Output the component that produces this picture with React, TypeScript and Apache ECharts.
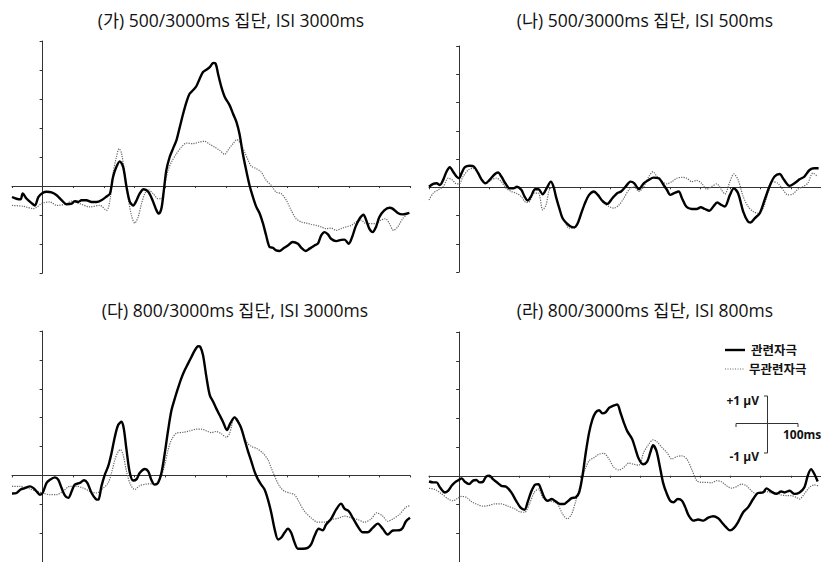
import React, { useEffect, useRef } from "react";
import * as echarts from "echarts";

// Time (ms) and amplitude (µV) pairs
const relA: number[][] = [[-100,-0.38],[-85,-0.44],[-72,-0.46],[-65,-0.26],[-52,-0.44],[-36,-0.59],[-25,-0.67],[-14,-0.38],[0,-0.24],[13,-0.2],[29,-0.22],[46,-0.32],[62,-0.49],[78,-0.63],[95,-0.61],[105,-0.52],[116,-0.55],[127,-0.49],[143,-0.49],[160,-0.55],[176,-0.55],[192,-0.49],[209,-0.36],[220,-0.26],[230,0.31],[241,0.66],[252,0.85],[263,0.66],[274,-0.03],[285,-0.55],[296,-0.67],[307,-0.49],[317,-0.26],[330,-0.11],[345,-0.2],[359,-0.49],[372,-0.84],[380,-0.95],[388,-0.78],[396,-0.15],[404,0.54],[415,1.0],[426,1.29],[437,1.57],[448,2.03],[459,2.49],[470,2.9],[480,3.18],[491,3.3],[502,3.44],[513,3.7],[524,3.93],[535,4.01],[546,4.1],[557,4.24],[565,4.22],[573,3.87],[584,3.41],[595,3.07],[611,2.78],[622,2.49],[633,2.21],[643,1.8],[654,1.11],[665,0.54],[676,0.02],[687,-0.38],[698,-0.72],[709,-0.95],[720,-1.3],[730,-1.7],[741,-2.1],[752,-2.13],[763,-2.22],[774,-2.24],[785,-2.16],[801,-2.05],[817,-1.93],[834,-1.99],[845,-2.13],[859,-2.24],[872,-2.16],[888,-2.05],[899,-1.99],[910,-1.7],[921,-1.59],[932,-1.67],[942,-1.82],[959,-1.9],[975,-1.86],[986,-1.85],[1000,-1.99],[1011,-1.76],[1022,-1.41],[1035,-1.13],[1048,-0.99],[1057,-1.18],[1067,-1.47],[1078,-1.59],[1089,-1.41],[1100,-1.07],[1116,-0.84],[1133,-0.75],[1143,-0.78],[1160,-0.93],[1176,-0.98],[1198,-0.93]];
const irrA: number[][] = [[-100,-0.67],[-63,-0.7],[-30,-0.78],[0,-0.59],[24,-0.55],[46,-0.67],[78,-0.61],[95,-0.52],[122,-0.61],[154,-0.72],[187,-0.67],[209,-0.84],[220,-0.49],[230,0.43],[241,1.0],[250,1.29],[258,1.11],[268,0.43],[279,-0.38],[290,-1.01],[301,-1.28],[312,-1.07],[323,-0.61],[334,-0.26],[345,-0.13],[361,-0.26],[377,-0.44],[388,-0.44],[399,0.08],[410,0.54],[421,0.83],[437,1.11],[453,1.34],[470,1.48],[491,1.46],[513,1.52],[529,1.54],[546,1.44],[562,1.34],[578,1.23],[595,1.09],[605,1.23],[622,1.46],[635,1.6],[649,1.4],[660,1.17],[671,0.89],[682,0.68],[698,0.6],[714,0.48],[730,0.2],[747,0.02],[763,-0.21],[779,-0.26],[796,-0.49],[812,-0.84],[828,-1.13],[845,-1.24],[861,-1.28],[877,-1.32],[894,-1.36],[910,-1.41],[926,-1.47],[942,-1.45],[959,-1.53],[975,-1.47],[991,-1.41],[1008,-1.36],[1024,-1.24],[1040,-1.18],[1057,-1.3],[1073,-1.3],[1089,-1.3],[1105,-1.18],[1120,-1.13],[1133,-1.3],[1146,-1.53],[1160,-1.41],[1176,-1.13],[1192,-0.95]];

const relB: number[][] = [[-100,0.02],[-86,0.12],[-75,0.14],[-64,0.08],[-53,0.26],[-42,0.55],[-31,0.71],[-20,0.55],[-9,0.38],[0,0.32],[8,0.5],[19,0.71],[35,0.76],[49,0.73],[63,0.5],[74,0.28],[87,0.14],[101,0.26],[118,0.46],[129,0.52],[140,0.38],[153,0.14],[167,-0.04],[180,-0.04],[192,0.02],[206,-0.09],[217,-0.33],[227,-0.47],[238,-0.33],[252,-0.07],[263,-0.07],[277,-0.25],[290,-0.04],[304,0.2],[313,0.02],[321,-0.33],[332,-0.74],[343,-1.1],[357,-1.28],[370,-1.39],[381,-1.42],[392,-1.3],[403,-0.98],[417,-0.57],[431,-0.27],[447,-0.15],[460,-0.27],[475,-0.48],[491,-0.59],[508,-0.39],[524,-0.21],[537,-0.15],[552,0.02],[568,0.2],[581,0.14],[596,-0.07],[612,0.14],[629,0.26],[645,0.34],[662,0.32],[678,0.08],[689,-0.09],[700,-0.27],[713,-0.21],[728,-0.15],[739,-0.39],[753,-0.68],[771,-0.77],[788,-0.77],[801,-0.71],[815,-0.77],[830,-0.83],[843,-0.68],[856,-0.54],[870,-0.63],[881,-0.68],[898,-0.27],[911,-0.04],[925,-0.21],[942,-0.86],[958,-1.22],[966,-1.25],[980,-1.1],[997,-0.92],[1013,-0.45],[1030,0.05],[1046,0.38],[1063,0.47],[1076,0.28],[1096,0.05],[1112,0.14],[1129,0.28],[1145,0.38],[1162,0.61],[1178,0.67],[1192,0.67]];
const irrB: number[][] = [[-100,-0.45],[-86,-0.21],[-69,-0.09],[-53,0.02],[-36,0.32],[-23,0.26],[-9,0.12],[0,0.12],[13,0.38],[30,0.61],[46,0.67],[63,0.5],[79,0.2],[90,0.14],[107,0.26],[123,0.32],[140,0.2],[156,-0.04],[173,-0.15],[189,-0.21],[206,-0.33],[222,-0.54],[233,-0.51],[249,-0.21],[263,-0.21],[277,-0.8],[288,-0.63],[299,-0.09],[310,0.02],[321,-0.33],[332,-0.74],[348,-1.16],[365,-1.45],[381,-1.45],[398,-1.16],[414,-0.68],[431,-0.27],[447,-0.19],[464,-0.35],[480,-0.57],[497,-0.68],[513,-0.74],[530,-0.63],[546,-0.39],[563,-0.09],[580,0.02],[596,-0.15],[612,0.02],[629,0.38],[643,0.55],[656,0.38],[673,0.2],[689,0.12],[706,0.2],[722,0.32],[739,0.35],[755,0.32],[771,0.2],[788,0.24],[804,0.14],[821,-0.07],[837,0.02],[854,0.12],[870,-0.09],[881,-0.24],[898,0.2],[911,0.47],[925,0.26],[942,-0.33],[958,-0.68],[975,-0.86],[991,-0.92],[1008,-0.74],[1024,-0.21],[1041,0.2],[1057,0.14],[1074,-0.09],[1090,-0.27],[1107,-0.24],[1123,-0.07],[1140,0.02],[1156,0.14],[1173,0.5],[1189,0.38]];

const relC: number[][] = [[-100,-0.63],[-85,-0.61],[-72,-0.49],[-58,-0.44],[-41,-0.38],[-30,-0.44],[-20,-0.55],[-9,-0.67],[0,-0.61],[13,-0.26],[24,-0.15],[40,-0.07],[51,-0.15],[62,-0.44],[73,-0.7],[84,-0.78],[95,-0.55],[105,-0.32],[122,-0.26],[135,-0.17],[146,-0.26],[160,-0.61],[174,-0.82],[182,-0.84],[192,-0.38],[203,0.02],[214,0.31],[225,0.77],[236,1.34],[247,1.75],[258,1.86],[265,1.63],[274,0.89],[285,0.08],[296,-0.18],[307,-0.13],[317,0.08],[334,0.22],[345,0.14],[355,-0.15],[366,-0.32],[377,-0.26],[388,0.08],[399,0.77],[410,1.57],[421,2.26],[432,2.67],[442,3.01],[453,3.36],[464,3.64],[475,3.87],[486,4.1],[497,4.33],[508,4.47],[515,4.45],[524,4.16],[535,3.41],[546,2.78],[557,2.55],[567,2.32],[578,2.09],[589,1.86],[602,1.57],[613,1.8],[627,2.01],[638,1.86],[649,1.63],[660,1.23],[671,0.83],[682,0.48],[692,0.14],[703,-0.13],[714,-0.32],[725,-0.49],[736,-0.84],[747,-1.3],[758,-1.87],[769,-2.22],[779,-2.16],[790,-1.99],[801,-1.85],[812,-1.99],[823,-2.33],[834,-2.54],[850,-2.54],[866,-2.51],[877,-2.39],[888,-2.1],[902,-1.85],[915,-1.9],[926,-1.7],[942,-1.51],[959,-1.18],[975,-0.98],[986,-1.15],[1000,-1.24],[1013,-1.47],[1029,-1.76],[1046,-1.97],[1062,-1.97],[1078,-1.82],[1095,-1.67],[1111,-1.85],[1127,-2.05],[1144,-1.91],[1165,-1.9],[1176,-1.82],[1187,-1.59],[1200,-1.47]];
const irrC: number[][] = [[-100,-0.38],[-74,-0.38],[-41,-0.47],[-20,-0.55],[0,-0.61],[24,-0.67],[46,-0.67],[67,-0.55],[89,-0.38],[111,-0.38],[133,-0.44],[154,-0.55],[176,-0.61],[198,-0.44],[214,-0.26],[225,0.08],[236,0.54],[247,0.83],[254,0.89],[263,0.71],[274,0.14],[287,-0.32],[301,-0.49],[317,-0.36],[339,-0.3],[361,-0.29],[377,-0.26],[388,-0.03],[399,0.37],[410,0.89],[421,1.23],[437,1.46],[459,1.49],[480,1.54],[502,1.6],[519,1.6],[535,1.54],[551,1.48],[567,1.52],[584,1.44],[600,1.32],[611,1.46],[627,2.03],[638,1.92],[649,1.57],[665,1.17],[682,1.0],[698,0.94],[720,0.77],[736,0.54],[747,0.25],[758,-0.03],[774,-0.38],[790,-0.55],[807,-0.61],[823,-0.67],[839,-0.95],[855,-1.24],[877,-1.47],[899,-1.62],[921,-1.62],[942,-1.53],[964,-1.49],[986,-1.41],[1008,-1.47],[1029,-1.53],[1051,-1.62],[1073,-1.51],[1091,-1.3],[1111,-1.41],[1127,-1.59],[1144,-1.51],[1165,-1.36],[1187,-1.1],[1200,-1.05]];

const relD: number[][] = [[-100,-0.2],[-86,-0.23],[-75,-0.23],[-64,-0.4],[-47,-0.58],[-36,-0.52],[-25,-0.35],[-14,-0.23],[0,-0.14],[8,-0.09],[19,-0.21],[33,-0.29],[46,-0.17],[57,-0.15],[68,-0.23],[79,-0.21],[90,-0.02],[101,0.0],[112,-0.12],[123,-0.21],[140,-0.35],[156,-0.38],[173,-0.58],[189,-0.87],[203,-1.1],[217,-1.18],[227,-0.92],[238,-0.58],[252,-0.31],[263,-0.29],[271,-0.46],[282,-0.75],[293,-0.87],[307,-0.81],[321,-0.9],[335,-0.98],[348,-0.98],[359,-0.9],[373,-0.78],[387,-0.75],[398,-0.58],[409,0.0],[420,0.81],[431,1.5],[442,1.96],[453,2.21],[464,2.28],[475,2.17],[486,2.21],[497,2.36],[508,2.42],[524,2.48],[535,2.19],[546,1.85],[557,1.56],[574,1.27],[585,0.92],[596,0.58],[610,0.4],[623,0.48],[634,0.81],[643,1.06],[654,0.87],[665,0.35],[676,-0.23],[687,-0.58],[700,-0.87],[711,-0.92],[725,-0.81],[739,-0.87],[750,-1.1],[761,-1.38],[777,-1.56],[793,-1.52],[810,-1.56],[826,-1.46],[843,-1.41],[859,-1.48],[870,-1.61],[885,-1.79],[898,-1.9],[911,-1.82],[925,-1.61],[942,-1.27],[958,-1.1],[975,-0.81],[991,-0.6],[1008,-0.58],[1019,-0.44],[1035,-0.55],[1052,-0.63],[1068,-0.55],[1079,-0.58],[1096,-0.52],[1112,-0.63],[1129,-0.58],[1145,-0.4],[1156,0.0],[1167,0.23],[1178,0.06],[1189,-0.2]];
const irrD: number[][] = [[-100,-0.44],[-80,-0.48],[-58,-0.63],[-36,-0.81],[-20,-0.87],[-9,-0.81],[8,-0.72],[24,-0.75],[41,-0.9],[63,-1.01],[79,-1.06],[96,-1.04],[118,-0.98],[140,-0.98],[162,-1.06],[184,-1.15],[200,-1.25],[217,-1.27],[233,-0.98],[249,-0.58],[263,-0.46],[277,-0.75],[293,-0.87],[310,-0.9],[326,-0.98],[343,-1.33],[359,-1.5],[373,-1.33],[387,-0.87],[398,-0.46],[409,-0.06],[420,0.29],[431,0.52],[447,0.63],[464,0.75],[480,0.78],[497,0.58],[513,0.29],[530,0.2],[546,0.29],[563,0.44],[579,0.4],[596,0.37],[612,0.81],[629,1.1],[643,1.25],[656,1.18],[673,0.98],[689,0.81],[706,0.58],[722,0.67],[739,0.69],[755,0.58],[771,0.23],[788,-0.17],[804,-0.23],[821,-0.23],[837,-0.25],[854,-0.17],[870,-0.21],[887,-0.35],[903,-0.43],[920,-0.38],[936,-0.29],[953,-0.35],[969,-0.52],[986,-0.63],[1002,-0.58],[1019,-0.55],[1035,-0.6],[1052,-0.58],[1068,-0.67],[1085,-0.69],[1101,-0.69],[1118,-0.75],[1129,-0.81],[1145,-0.63],[1162,-0.4],[1178,-0.32],[1192,-0.35]];

const panelTitles = [
  "(가) 500/3000ms 집단, ISI 3000ms",
  "(나) 500/3000ms 집단, ISI 500ms",
  "(다) 800/3000ms 집단, ISI 3000ms",
  "(라) 800/3000ms 집단, ISI 800ms",
];
const legendNames = ["관련자극", "무관련자극"];
const scaleLabels = ["+1 µV", "-1 µV", "100ms"];

const X_MIN = -100;
const X_MAX = 1200;
const Y_MIN = -3;
const Y_MAX = 5;

export default function App() {
  const ref = useRef<HTMLDivElement>(null);
  useEffect(() => {
    if (!ref.current) return;
    const chart = echarts.init(ref.current, null, { renderer: "svg" });
    const font = '"Open Sans", "Noto Sans CJK KR", sans-serif';
    const grids = [
      { left: 12, top: 41, width: 398, height: 232 },
      { left: 429, top: 46, width: 394, height: 226 },
      { left: 12, top: 331, width: 398, height: 232 },
      { left: 429, top: 332, width: 394, height: 231 },
    ];
    const pairs = [
      [relA, irrA],
      [relB, irrB],
      [relC, irrC],
      [relD, irrD],
    ];
    const axisColor = "#333";
    const xAxis = grids.map((_, i) => ({
      type: "value",
      gridIndex: i,
      min: X_MIN,
      max: X_MAX,
      interval: 100,
      axisLabel: { show: false },
      splitLine: { show: false },
      axisLine: { show: true, onZero: true, lineStyle: { color: axisColor, width: 1 } },
      axisTick: { show: true, length: 2, lineStyle: { color: axisColor } },
    }));
    const yAxis = grids.map((_, i) => ({
      type: "value",
      gridIndex: i,
      min: Y_MIN,
      max: Y_MAX,
      interval: 1,
      axisLabel: { show: false },
      splitLine: { show: false },
      axisLine: { show: true, onZero: true, lineStyle: { color: axisColor, width: 1 } },
      axisTick: { show: true, length: 3, lineStyle: { color: axisColor } },
    }));
    const series: any[] = [];
    pairs.forEach(([rel, irr], i) => {
      series.push({
        name: legendNames[1],
        type: "line",
        xAxisIndex: i,
        yAxisIndex: i,
        data: irr,
        showSymbol: false,
        smooth: 0.3,
        z: 2,
        lineStyle: { color: "#666", width: 1.2, type: "dotted" },
      });
      series.push({
        name: legendNames[0],
        type: "line",
        xAxisIndex: i,
        yAxisIndex: i,
        data: rel,
        showSymbol: false,
        smooth: 0.3,
        z: 3,
        lineStyle: { color: "#000", width: 2.4 },
      });
    });
    const titlePos = [
      [231, 20],
      [645, 20],
      [235, 310],
      [645, 310],
    ];
    const graphic: any[] = panelTitles.map((t, i) => ({
      type: "text",
      x: titlePos[i][0],
      y: titlePos[i][1],
      style: {
        text: t,
        fontSize: 17.5,
        fontFamily: font,
        fill: "#111",
        align: "center",
        verticalAlign: "middle",
      },
    }));
    const bold = { fontSize: 12.5, fontWeight: "bold", fontFamily: font, fill: "#111" };
    graphic.push(
      { type: "line", shape: { x1: 725, y1: 350, x2: 745, y2: 350 }, style: { stroke: "#000", lineWidth: 2.4 } },
      { type: "text", x: 751, y: 350, style: { ...bold, text: legendNames[0], align: "left", verticalAlign: "middle" } },
      { type: "line", shape: { x1: 725, y1: 369, x2: 745, y2: 369 }, style: { stroke: "#666", lineWidth: 1, lineDash: [1, 1.5] } },
      { type: "text", x: 749, y: 369, style: { ...bold, text: legendNames[1], align: "left", verticalAlign: "middle" } },
      // scale bar
      { type: "line", shape: { x1: 767.5, y1: 396, x2: 767.5, y2: 453 }, style: { stroke: "#333", lineWidth: 1 } },
      { type: "line", shape: { x1: 764, y1: 396, x2: 767.5, y2: 396 }, style: { stroke: "#333", lineWidth: 1 } },
      { type: "line", shape: { x1: 764, y1: 453, x2: 767.5, y2: 453 }, style: { stroke: "#333", lineWidth: 1 } },
      { type: "line", shape: { x1: 736, y1: 423.5, x2: 798, y2: 423.5 }, style: { stroke: "#333", lineWidth: 1 } },
      { type: "line", shape: { x1: 736, y1: 423.5, x2: 736, y2: 427 }, style: { stroke: "#333", lineWidth: 1 } },
      { type: "line", shape: { x1: 798, y1: 423.5, x2: 798, y2: 427 }, style: { stroke: "#333", lineWidth: 1 } },
      { type: "text", x: 759, y: 400, style: { ...bold, fontSize: 12, text: scaleLabels[0], align: "right", verticalAlign: "middle" } },
      { type: "text", x: 759, y: 456, style: { ...bold, fontSize: 12, text: scaleLabels[1], align: "right", verticalAlign: "middle" } },
      { type: "text", x: 783, y: 434, style: { ...bold, fontSize: 12, text: scaleLabels[2], align: "left", verticalAlign: "middle" } }
    );
    chart.setOption({
      animation: false,
      backgroundColor: "#fff",
      grid: grids.map((g) => ({ ...g, containLabel: false })),
      xAxis,
      yAxis,
      series,
      graphic,
    });
    return () => chart.dispose();
  }, []);
  return (
    <div
      ref={ref}
      style={{ position: "fixed", left: 0, top: 0, width: 821, height: 562, background: "#fff" }}
    />
  );
}
